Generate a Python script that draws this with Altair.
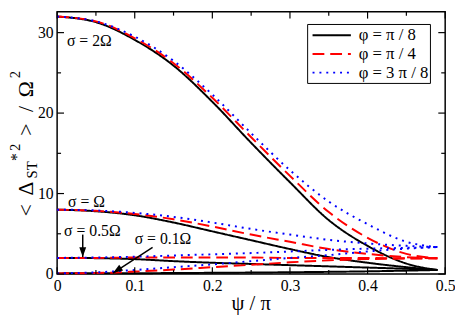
import altair as alt
import pandas as pd

# ---- data ----
psi = [0, 0.05, 0.1, 0.15, 0.2, 0.25, 0.3, 0.35, 0.4, 0.45, 0.49]

s2_black = [32, 31.3, 29.1, 25.9, 21.4, 16.3, 11.4, 6.7, 3.5, 1.3, 0.5]
s2_red = [32, 31.4, 29.3, 26.2, 21.9, 17.0, 12.2, 7.7, 4.5, 2.5, 1.95]
s2_blue = [32, 31.4, 29.5, 26.5, 22.3, 17.5, 12.9, 9.0, 6.2, 4.0, 3.35]

s1_black = [8, 7.8, 7.3, 6.4, 5.3, 4.2, 3.1, 2.1, 1.4, 0.85, 0.5]
s1_red = [8, 7.85, 7.45, 6.8, 5.9, 4.9, 4.0, 3.1, 2.5, 2.1, 1.95]
s1_blue = [8, 7.9, 7.6, 7.1, 6.4, 5.6, 4.9, 4.25, 3.8, 3.5, 3.35]

s05_black = [2, 1.97, 1.85, 1.6, 1.4, 1.25, 1.1, 0.95, 0.8, 0.65, 0.5]
s05_red = [2, 2.0, 2.05, 2.05, 2.05, 2.05, 2.0, 2.0, 2.0, 1.95, 1.95]
s05_blue = [2, 2.05, 2.15, 2.3, 2.45, 2.6, 2.8, 3.0, 3.15, 3.25, 3.35]

s01_black = [0.08, 0.09, 0.1, 0.12, 0.15, 0.18, 0.22, 0.27, 0.33, 0.42, 0.5]
s01_red = [0.08, 0.12, 0.3, 0.55, 0.85, 1.15, 1.45, 1.7, 1.85, 1.92, 1.95]
s01_blue = [0.08, 0.2, 0.5, 0.85, 1.2, 1.6, 2.0, 2.35, 2.8, 3.15, 3.35]

phi_labels = ["φ = π / 8", "φ = π / 4", "φ = 3 π / 8"]
phi_colors = ["black", "red", "blue"]
phi_dashes = [[1, 0], [12, 6], [2, 5]]

x_major = [0, 0.1, 0.2, 0.3, 0.4, 0.5]
x_minor = [0.05, 0.15, 0.25, 0.35, 0.45]
y_major = [0, 10, 20, 30]
y_minor = [5, 15, 25]

ann_text = ["σ = 2Ω", "σ = Ω", "σ = 0.5Ω", "σ = 0.1Ω"]
ann_x = [0.0127, 0.014, 0.009, 0.1]
ann_y = [28.9, 9.0, 5.3, 4.4]

arrow_x0 = [0.033, 0.123]
arrow_y0 = [4.9, 3.3]
arrow_x1 = [0.033, 0.072]
arrow_y1 = [2.1, 0.12]
arrow_ang = [0, 56]

# ---- build tables ----
series = {
    ("2Ω", 0): s2_black, ("2Ω", 1): s2_red, ("2Ω", 2): s2_blue,
    ("Ω", 0): s1_black, ("Ω", 1): s1_red, ("Ω", 2): s1_blue,
    ("0.5Ω", 0): s05_black, ("0.5Ω", 1): s05_red, ("0.5Ω", 2): s05_blue,
    ("0.1Ω", 0): s01_black, ("0.1Ω", 1): s01_red, ("0.1Ω", 2): s01_blue,
}
rows = []
for (sig, k), vals in series.items():
    for xv, yv in zip(psi, vals):
        rows.append({"psi": xv, "val": yv, "sigma": sig, "phi": phi_labels[k]})
df = pd.DataFrame(rows)

W, H = 395, 267
FONT = "Times New Roman, Liberation Serif, DejaVu Serif, serif"
xs = alt.Scale(domain=[0, 0.5], nice=False, zero=False)
ys = alt.Scale(domain=[0, 32.6], nice=False, zero=False)

x_axis = alt.Axis(values=x_major, labelExpr="datum.value == 0 ? '0' : format(datum.value, '.1f')",
                  title=None, domain=False, ticks=False, grid=False, labelFont=FONT, labelFontSize=16,
                  labelColor="black", labelPadding=4, labelFlush=False, labelOverlap=False)
y_axis = alt.Axis(values=y_major, format="d", title=None, domain=False, ticks=False, grid=False,
                  labelFont=FONT, labelFontSize=16, labelColor="black", labelPadding=4,
                  labelFlush=False, labelOverlap=False)

lines = alt.Chart(df).mark_line(strokeWidth=2, interpolate="monotone").encode(
    x=alt.X("psi:Q", scale=xs, axis=x_axis),
    y=alt.Y("val:Q", scale=ys, axis=y_axis),
    color=alt.Color("phi:N", scale=alt.Scale(domain=phi_labels, range=phi_colors), legend=None),
    strokeDash=alt.StrokeDash("phi:N", scale=alt.Scale(domain=phi_labels, range=phi_dashes), legend=None),
    detail="sigma:N",
)


def xticks(vals, length):
    d = pd.DataFrame({"v": vals})
    bot = alt.Chart(d).mark_rule(color="black", strokeWidth=1.2).encode(
        x=alt.X("v:Q", scale=xs, axis=x_axis), y=alt.value(H), y2=alt.value(H - length))
    top = alt.Chart(d).mark_rule(color="black", strokeWidth=1.2).encode(
        x=alt.X("v:Q", scale=xs, axis=x_axis), y=alt.value(0), y2=alt.value(length))
    return [bot, top]


def yticks(vals, length):
    d = pd.DataFrame({"v": vals})
    left = alt.Chart(d).mark_rule(color="black", strokeWidth=1.2).encode(
        y=alt.Y("v:Q", scale=ys, axis=y_axis), x=alt.value(0), x2=alt.value(length))
    right = alt.Chart(d).mark_rule(color="black", strokeWidth=1.2).encode(
        y=alt.Y("v:Q", scale=ys, axis=y_axis), x=alt.value(W), x2=alt.value(W - length))
    return [left, right]


ticks = xticks(x_major, 7) + xticks(x_minor, 4) + yticks(y_major, 7) + yticks(y_minor, 4)

ann_df = pd.DataFrame({"t": ann_text, "x": ann_x, "y": ann_y})
ann = alt.Chart(ann_df).mark_text(align="left", baseline="middle", font=FONT, fontSize=16, color="black").encode(
    x=alt.X("x:Q", scale=xs, axis=x_axis), y=alt.Y("y:Q", scale=ys, axis=y_axis), text="t:N")

arr_df = pd.DataFrame({"x0": arrow_x0, "y0": arrow_y0, "x1": arrow_x1, "y1": arrow_y1, "a": arrow_ang})
shafts = alt.Chart(arr_df).mark_rule(color="black", strokeWidth=1.5).encode(
    x=alt.X("x0:Q", scale=xs, axis=x_axis), y=alt.Y("y0:Q", scale=ys, axis=y_axis),
    x2="x1:Q", y2="y1:Q")
heads = alt.Chart(arr_df).mark_point(shape="M0,0 L-0.35,-1 L0.35,-1 Z", filled=True, size=400,
                                     color="black", opacity=1, strokeWidth=0).encode(
    x=alt.X("x1:Q", scale=xs, axis=x_axis), y=alt.Y("y1:Q", scale=ys, axis=y_axis),
    angle=alt.Angle("a:Q", scale=None))

one = pd.DataFrame({"a": [0]})


def txt(t, x, y, size, align="center", angle=0, baseline="alphabetic"):
    return alt.Chart(one).mark_text(text=t, font=FONT, fontSize=size, color="black",
                                    align=align, baseline=baseline, angle=angle).encode(
        x=alt.value(x), y=alt.value(y))


# legend box drawn by hand (pixel layout inside the plot)
LX, LY, ROW = 255, 13, 19
legend_parts = [
    alt.Chart(one).mark_rect(fill="white", stroke="black", strokeWidth=1).encode(
        x=alt.value(LX), x2=alt.value(LX + 125), y=alt.value(LY), y2=alt.value(LY + 60))
]
for i, lab in enumerate(phi_labels):
    yy = LY + 11 + i * ROW
    legend_parts.append(
        alt.Chart(one).mark_rule(color=phi_colors[i], strokeWidth=2, strokeDash=phi_dashes[i]).encode(
            x=alt.value(LX + 5), x2=alt.value(LX + 44), y=alt.value(yy)))
    legend_parts.append(txt(lab, LX + 52, yy, 17, align="left", baseline="middle"))

# y-axis title  < Δ_ST*² > / Ω²  (pieces, rotated)
title_parts = [
    txt("<", -25, 202, 22, angle=270),
    txt("Δ", -25, 180, 22, angle=270),
    txt("ST", -20, 161, 15, angle=270),
    txt("*", -36, 148, 16, angle=270),
    txt("2", -38, 138, 15, angle=270),
    txt(">", -25, 120, 22, angle=270),
    txt("/", -25, 99, 22, angle=270),
    txt("Ω", -25, 79, 22, angle=270),
    txt("2", -38, 64, 15, angle=270),
    txt("ψ / π", W / 2, 298, 21, baseline="middle"),
]

chart = alt.layer(lines, *ticks, ann, shafts, heads, *legend_parts, *title_parts).properties(
    width=W, height=H,
    autosize=alt.AutoSizeParams(type="none"),
    padding={"left": 50, "top": 1, "right": 10, "bottom": 42},
).configure_view(stroke="black", strokeWidth=1.5)

chart.save("out.html", embed_options={"renderer": "svg", "actions": False})
